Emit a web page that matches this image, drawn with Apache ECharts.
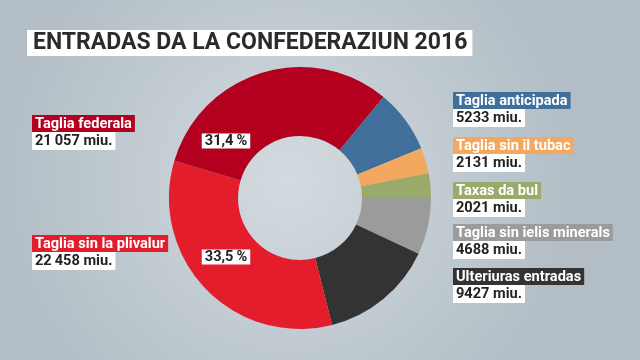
<!DOCTYPE html>
<html>
<head>
<meta charset="utf-8">
<script src="https://cdn.jsdelivr.net/npm/echarts@6/dist/echarts.min.js"></script>
<style>
html,body{margin:0;padding:0;}
#chart{width:640px;height:360px;}
</style>
</head>
<body>
<div id="chart"></div>
<script>
const titleText = 'ENTRADAS DA LA CONFEDERAZIUN 2016';
const categories = ['Taglia federala', 'Taglia sin la plivalur', 'Taglia anticipada', 'Taglia sin il tubac', 'Taxas da bul', 'Taglia sin ielis minerals', 'Ulteriuras entradas'];
const values = [21057, 22458, 5233, 2131, 2021, 4688, 9427];
const colors = ['#b3001e', '#e31d2b', '#3f6f9a', '#f2a85f', '#9aaa6a', '#9b9b9b', '#333333'];
const drawOrder = [5, 6, 1, 0, 2, 3, 4];
const percentShown = [0, 1];

const FONT = 'Roboto, "Noto Sans", sans-serif';
const total = values.reduce((a, b) => a + b, 0);
function fmtVal(v) {
  const s = String(v);
  return (v >= 10000 ? s.slice(0, s.length - 3) + '\u2009' + s.slice(-3) : s) + ' miu.';
}
function fmtPct(v) {
  return (v / total * 100).toFixed(1).replace('.', ',') + '\u2009%';
}

// label block positions (layout only)
const labelPos = [[32, 115], [32, 235], [453, 92], [453, 137], [453, 182], [453, 224], [453, 268]];
const pctPos = [[226, 141], [226, 257]];

const graphics = [];
graphics.push({
  type: 'text', x: 27, y: 30, z: 100,
  style: { text: titleText, fill: '#2b2b2b', font: 'bold 23px ' + FONT, backgroundColor: '#ffffff', padding: [1, 5, 1, 6], lineHeight: 24, verticalAlign: 'top' }
});
categories.forEach((c, i) => {
  const [x, y] = labelPos[i];
  graphics.push({
    type: 'text', x: x, y: y, z: 100,
    style: { text: c, fill: '#ffffff', font: 'bold 14.6px ' + FONT, backgroundColor: colors[i], padding: [1, 3, 0, 3], lineHeight: 16, verticalAlign: 'top' }
  });
  graphics.push({
    type: 'text', x: x, y: y + 17, z: 100,
    style: { text: fmtVal(values[i]), fill: '#222222', font: 'bold 14.6px ' + FONT, backgroundColor: '#ffffff', padding: [1, 3, 1, 3], lineHeight: 16, verticalAlign: 'top' }
  });
});
percentShown.forEach((idx, k) => {
  const [x, y] = pctPos[k];
  graphics.push({
    type: 'text', x: x, y: y, z: 100,
    style: { text: fmtPct(values[idx]), fill: '#222222', font: 'bold 14.6px ' + FONT, backgroundColor: '#ffffff', padding: [0, 3, 0, 3], lineHeight: 15, align: 'center', verticalAlign: 'middle' }
  });
});

const chart = echarts.init(document.getElementById('chart'), null, { renderer: 'canvas' });
chart.setOption({
  backgroundColor: {
    type: 'radial', x: 0.45, y: 0.5, r: 0.8,
    colorStops: [{ offset: 0, color: '#d3dbe0' }, { offset: 1, color: '#b2bdc5' }]
  },
  animation: false,
  series: [{
    type: 'pie',
    z: 2,
    center: [300, 198],
    radius: [62, 131],
    startAngle: 0,
    clockwise: true,
    label: { show: false },
    labelLine: { show: false },
    emphasis: { disabled: true },
    data: drawOrder.map(i => ({ name: categories[i], value: values[i], itemStyle: { color: colors[i] } }))
  }],
  graphic: graphics
});
</script>
</body>
</html>
